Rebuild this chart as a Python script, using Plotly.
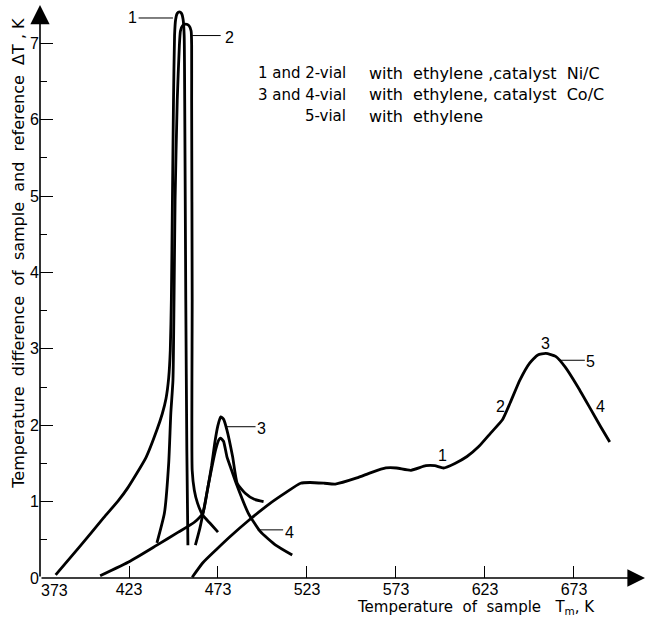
import plotly.graph_objects as go

# ---------------- data ----------------
# x: temperature of sample Tm, K ; y: temperature difference dT, K
# Curve 1 - vial with ethylene, catalyst Ni/C
t1 = [381.8, 395.3, 408.8, 416.9, 422.3, 432.6, 438.7, 441.7, 443.8, 445.3, 446.2, 446.8,
      447.4, 448.0, 448.6, 449.2, 450.1, 451.3, 452.5, 453.4, 454.0, 454.3, 454.9, 455.5, 456.1]
dT1 = [0.04, 0.41, 0.79, 1.01, 1.18, 1.58, 1.94, 2.15, 2.35, 2.62, 2.98, 3.64,
       4.95, 6.25, 7.10, 7.31, 7.39, 7.41, 7.39, 7.31, 7.10, 6.25, 3.64, 1.67, 0.43]

# Curve 2 - vial with ethylene, catalyst Ni/C
t2 = [438.7, 442.9, 445.3, 446.5, 447.7, 448.3, 448.9, 450.1, 451.3, 451.9, 453.1, 454.9,
      456.7, 457.9, 458.2, 458.2, 458.5, 458.5, 459.7, 461.5, 464.5, 468.8, 473.0]
dT2 = [0.46, 0.85, 1.50, 2.16, 2.59, 3.64, 4.95, 6.25, 6.97, 7.16, 7.23, 7.25,
       7.23, 7.16, 6.97, 6.25, 3.64, 1.41, 1.15, 0.98, 0.82, 0.71, 0.60]

# Curve 3 - vial with ethylene, catalyst Co/C
t3 = [406.8, 423.6, 438.7, 450.7, 459.7, 464.5, 466.9, 469.4, 471.2, 473.0, 474.5,
      476.1, 478.0, 481.2, 483.8, 488.3, 493.4, 498.6]
dT3 = [0.03, 0.22, 0.43, 0.60, 0.73, 0.85, 1.13, 1.47, 1.77, 2.00, 2.11,
       2.08, 1.94, 1.59, 1.24, 1.11, 1.03, 1.00]

# Curve 4 - vial with ethylene, catalyst Co/C
t4 = [460.3, 462.8, 465.2, 467.6, 470.0, 471.8, 473.5, 474.5, 476.1, 478.0, 480.2,
      483.2, 490.0, 496.7, 505.4, 514.7]
dT4 = [0.43, 0.65, 0.92, 1.22, 1.50, 1.69, 1.81, 1.83, 1.79, 1.59, 1.44,
       1.24, 0.85, 0.61, 0.43, 0.30]

# Curve 5 - vial with ethylene (high-temperature branch common to all curves)
t5 = [458.5, 464.5, 472.4, 479.7, 490.0, 501.9, 510.6, 519.4, 524.6, 532.8, 538.9,
      551.0, 559.0, 567.3, 573.3, 581.4, 589.8, 594.8, 599.7, 606.1, 612.9, 619.5,
      626.3, 632.8, 637.1, 642.6, 648.0, 652.7, 657.2, 662.7, 668.1, 675.2, 682.6,
      688.0, 693.1]
dT5 = [0.01, 0.20, 0.38, 0.54, 0.75, 0.97, 1.11, 1.24, 1.25, 1.24, 1.23,
       1.31, 1.38, 1.44, 1.44, 1.41, 1.47, 1.47, 1.44, 1.50, 1.59, 1.72,
       1.90, 2.07, 2.29, 2.59, 2.81, 2.92, 2.94, 2.90, 2.76, 2.50, 2.20,
       1.98, 1.78]

x_ticks = [373, 423, 473, 523, 573, 623, 673]
y_ticks = [0, 1, 2, 3, 4, 5, 6, 7]

legend_keys = ["1 and 2-vial", "3 and 4-vial", "5-vial"]
legend_text = ["with  ethylene ,catalyst  Ni/C",
               "with  ethylene, catalyst  Co/C",
               "with  ethylene"]

# ---------------- figure ----------------
FONT = "Liberation Sans"
WIDE = "DejaVu Sans"
X0, X1 = 373, 712.9
Y0, Y1 = 0, 7.5

fig = go.Figure()
line_style = dict(color="black", width=2.8, shape="spline", smoothing=0.5)
for tx, ty, nm in [(t1, dT1, "1"), (t2, dT2, "2"), (t3, dT3, "3"), (t4, dT4, "4"), (t5, dT5, "5")]:
    fig.add_trace(go.Scatter(x=tx, y=ty, mode="lines", name=nm, line=line_style,
                             showlegend=False, hoverinfo="x+y"))

fig.update_layout(
    width=651, height=619,
    margin=dict(l=40, r=6, t=5, b=41),
    paper_bgcolor="white", plot_bgcolor="white",
    font=dict(family=FONT, size=16, color="black"),
    showlegend=False,
)
fig.update_xaxes(range=[X0, X1], showgrid=False, zeroline=False, showline=False,
                 tickmode="array", tickvals=x_ticks,
                 ticktext=[("" if v == x_ticks[0] else str(v)) for v in x_ticks],
                 ticks="inside", ticklen=12, tickwidth=1.2, tickcolor="black",
                 tickfont=dict(size=16, family=FONT))
fig.update_yaxes(range=[Y0, Y1], showgrid=False, zeroline=False, showline=False,
                 tickmode="array", tickvals=y_ticks, ticktext=[str(v) for v in y_ticks],
                 ticks="inside", ticklen=13, tickwidth=1.2, tickcolor="black",
                 tickfont=dict(size=16, family=FONT),
                 minor=dict(tick0=0.5, dtick=1, ticks="inside", ticklen=7,
                            tickwidth=1.2, tickcolor="black"))

ann = []
# axes drawn as arrows
ann.append(dict(x=X1, y=0, ax=X0, ay=0, xref="x", yref="y", axref="x", ayref="y",
                text="", showarrow=True, arrowhead=2, arrowsize=2.2, arrowwidth=1.6,
                arrowcolor="black"))
ann.append(dict(x=X0, y=Y1, ax=X0, ay=0, xref="x", yref="y", axref="x", ayref="y",
                text="", showarrow=True, arrowhead=2, arrowsize=2.4, arrowwidth=1.6,
                arrowcolor="black"))

# first x tick label, set just right of the origin as in the original
ann.append(dict(x=x_ticks[0] + 8, y=-0.022, xref="x", yref="paper", text=str(x_ticks[0]),
                showarrow=False, xanchor="center", yanchor="middle",
                font=dict(size=16, family=FONT)))

# axis titles
ann.append(dict(x=-0.037, y=0.567, xref="paper", yref="paper", textangle=-90,
                text="Temperature  difference  of  sample  and  reference  \u0394T , K",
                showarrow=False, font=dict(size=16, family=WIDE),
                xanchor="center", yanchor="middle"))
ann.append(dict(x=0.721, y=-0.071, xref="paper", yref="paper",
                text="Temperature  of  sample   T<sub>m</sub>, K",
                showarrow=False, font=dict(size=15, family=WIDE),
                xanchor="center", yanchor="bottom"))

# legend text block
for i, (k, t) in enumerate(zip(legend_keys, legend_text)):
    yy = [0.881, 0.843, 0.806][i]
    ann.append(dict(x=0.509, y=yy, xref="paper", yref="paper", text=k, showarrow=False,
                    xanchor="right", yanchor="middle", font=dict(size=15, family=WIDE)))
    ann.append(dict(x=0.540, y=yy, xref="paper", yref="paper", text=t, showarrow=False,
                    xanchor="left", yanchor="middle", font=dict(size=16, family=WIDE)))

# curve number labels
for txt, xx, yy in [("1", 424.8, 7.34), ("2", 479.2, 7.08), ("3", 497.7, 1.96), ("4", 513.2, 0.60),
                    ("1", 599.2, 1.61), ("2", 631.7, 2.25), ("3", 657.0, 3.07),
                    ("5", 682.4, 2.83), ("4", 688.0, 2.24)]:
    ann.append(dict(x=xx, y=yy, xref="x", yref="y", text=txt, showarrow=False,
                    xanchor="center", yanchor="middle", font=dict(size=16, family=FONT)))
fig.update_layout(annotations=ann)

# leader lines
for xa, xb, yy in [(428.4, 447.7, 7.33), (458.5, 474.5, 7.10), (477.1, 494.1, 1.98),
                   (495.2, 509.6, 0.63), (664.4, 679.1, 2.85)]:
    fig.add_shape(type="line", x0=xa, x1=xb, y0=yy, y1=yy, xref="x", yref="y",
                  line=dict(color="black", width=1))

fig.write_html("out.html", config={"displayModeBar": False},
               post_script="document.body.style.margin='0px';")
